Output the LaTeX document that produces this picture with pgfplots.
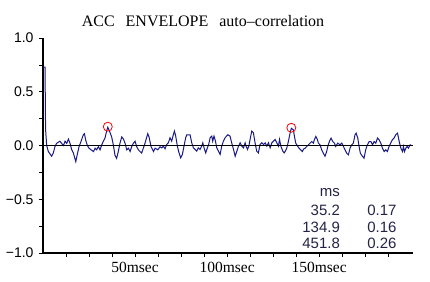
\documentclass[border=0pt]{standalone}
\usepackage{pgfplots}
\pgfplotsset{compat=1.18}
\usepackage{fontspec}
\setmainfont{Liberation Serif}
\newfontfamily\lsans{Liberation Sans}
\definecolor{sig}{RGB}{25,25,135}
\definecolor{tab}{RGB}{35,35,70}
\begin{document}
\begin{tikzpicture}
\path[use as bounding box] (-43bp,-29bp) rectangle (387bp,253bp);
\begin{axis}[
 at={(0,0)}, anchor=south west,
 scale only axis, width=370bp, height=215bp,
 xmin=0, xmax=201, ymin=-1, ymax=1,
 axis lines=left,
 axis line style={-, line width=1.8bp, black},
 tick align=outside,
 major tick length=4bp, minor tick length=4bp,
 tick style={black, line width=0.6bp},
 xtick={50,100,150},
 xticklabels={50msec,100msec,150msec},
 minor xtick={12.5,25,37.5,62.5,75,87.5,112.5,125,137.5,162.5,175,187.5},
 ytick={-1,-0.5,0,0.5,1},
 yticklabels={−1.0,−0.5,0.0,0.5,1.0},
 minor ytick={-0.75,-0.25,0.25,0.75},
 x tick label style={font=\fontsize{15.5bp}{16bp}\selectfont, yshift=-2bp},
 y tick label style={font=\lsans\fontsize{14bp}{15bp}\selectfont, xshift=-2bp},
]
\addplot[sig, line width=1bp] coordinates {
(0,0.73) (1.1,0.73) (1.4,0.15) (2.0,0.0) (2.9,-0.056) (4.7,-0.10) (5.6,-0.07) (6.5,-0.01) (7.4,0.02) (9.2,0.04)
(10.1,0.02) (11.1,0.0) (12.0,0.04) (12.9,0.02) (13.8,0.06) (14.7,0.02) (15.6,-0.04) (16.5,-0.07) (17.8,-0.15) (18.8,-0.07)
(19.6,-0.01) (20.7,0.04) (21.9,0.10) (22.5,0.11) (23.2,0.05) (24.1,0.0) (25.0,-0.025) (26.1,-0.04) (27.4,-0.056) (28.3,-0.025)
(29.2,-0.04) (30.1,-0.01) (31.0,-0.04) (31.9,0.006) (32.8,0.04) (33.7,0.07) (34.5,0.13) (35.2,0.17) (36.2,0.13) (37.3,0.08)
(38.2,0.006) (39.1,-0.09) (40.0,-0.12) (40.9,-0.056) (41.8,0.02) (42.8,0.08) (43.7,0.06) (44.6,0.02) (45.5,-0.04) (46.4,-0.025)
(47.3,-0.056) (48.2,-0.01) (49.1,0.02) (50.0,0.04) (50.9,-0.01) (51.8,-0.04) (52.7,-0.056) (53.6,-0.07) (54.5,-0.025) (55.4,0.02)
(56.9,0.11) (57.6,0.08) (58.7,-0.01) (60.0,-0.056) (60.9,-0.025) (62.3,-0.04)
(63.6,-0.012) (64.5,-0.022) (65.4,-0.006) (66.3,-0.031) (67.2,0.009) (68.1,0.025) (69.0,0.072) (69.9,0.04) (70.8,0.10) (71.4,0.134)
(72.1,0.087) (73.0,-0.006) (73.9,-0.069) (74.8,-0.115) (75.7,-0.084) (76.6,-0.006) (77.5,0.072) (78.1,0.10) (79.9,0.10) (80.8,0.025)
(81.7,-0.022) (82.6,-0.037) (83.5,-0.053) (84.4,-0.022) (85.3,-0.037) (86.2,-0.006) (86.8,0.025) (87.5,-0.022) (88.4,-0.069) (89.3,-0.022)
(90.0,0.009) (90.8,0.072) (91.7,0.087) (92.2,0.04) (92.9,0.087) (93.7,0.04) (94.4,-0.022) (95.3,-0.053) (96.2,-0.084) (97.1,-0.006)
(98.0,0.04) (98.9,0.072) (100.4,0.10) (101.6,0.087) (102.5,0.025) (103.5,-0.037) (104.4,-0.10) (105.3,-0.053) (106.2,-0.006) (107.1,0.025)
(108.0,-0.006) (108.9,-0.022) (109.8,0.025) (110.3,-0.006) (111.1,-0.037) (111.8,-0.006) (112.5,0.056) (113.4,0.134) (114.3,0.118) (115.2,0.025)
(116.1,-0.053) (117.0,-0.069) (117.9,0.009) (118.9,0.025) (119.8,0.009) (120.7,0.025) (121.6,-0.006) (122.5,0.025) (123.4,-0.022) (124.3,0.025)
(125.2,0.04) (126.1,0.056) (127.0,0.025) (127.9,-0.006) (128.5,0.056) (129.2,-0.006) (130.3,-0.053) (131.0,-0.069)
(131.5,-0.056) (132.4,-0.025) (133.3,0.037) (134.2,0.115) (134.9,0.16) (136.0,0.146) (136.6,0.084) (137.3,0.022) (138.2,-0.003) (139.1,-0.025)
(140.0,-0.04) (140.9,-0.056) (141.5,-0.034) (142.4,-0.025) (143.3,-0.009) (144.2,0.006) (145.1,0.022) (146.0,0.037) (146.9,0.022) (147.4,0.053)
(148.2,0.084) (149.1,0.053) (149.6,0.022) (150.5,0.006) (151.4,-0.04) (152.3,-0.072) (153.2,-0.10) (154.1,-0.056) (154.7,-0.009) (155.6,0.037)
(156.5,0.069) (157.4,0.037) (158.3,0.022) (159.0,-0.009) (160.1,0.022) (161.4,0.006) (162.3,0.022) (163.2,-0.009) (164.1,-0.04) (165.0,-0.072)
(165.9,-0.087) (166.8,-0.025) (167.7,0.006) (168.6,0.022) (169.5,0.10) (170.1,0.115) (171.0,0.069) (171.7,-0.009) (172.4,-0.072) (173.5,-0.10)
(174.4,-0.118) (175.3,-0.04) (176.2,0.006) (177.2,0.037) (178.1,0.037) (179.0,0.006) (179.9,0.037) (180.8,0.022) (181.7,0.069) (182.6,0.053)
(183.5,0.022) (184.4,-0.025) (185.3,-0.056) (186.2,-0.04) (187.1,-0.056) (188.0,-0.009) (188.9,0.022) (189.8,0.053) (190.7,0.069) (191.6,0.10)
(192.6,0.115) (193.5,0.037) (194.4,-0.025) (195.3,-0.056) (195.8,-0.009) (196.4,-0.056) (197.1,-0.025) (197.8,-0.009) (198.5,-0.025) (199.4,0.006)
(200.0,0.006)
};
\addplot[black, line width=1bp] coordinates {(0,0) (201,0)};
\addplot[only marks, red, mark=o, mark size=4.5bp, mark options={line width=0.8bp}] coordinates {(35.2,0.175) (134.9,0.165)};
\node[anchor=east, text=tab, font=\lsans\fontsize{15bp}{15bp}\selectfont, inner sep=0pt] at (rel axis cs:0.803,0.279) {ms};
\node[anchor=east, text=tab, font=\lsans\fontsize{15bp}{15bp}\selectfont, inner sep=0pt] at (rel axis cs:0.803,0.200) {35.2};
\node[anchor=east, text=tab, font=\lsans\fontsize{15bp}{15bp}\selectfont, inner sep=0pt] at (rel axis cs:0.803,0.121) {134.9};
\node[anchor=east, text=tab, font=\lsans\fontsize{15bp}{15bp}\selectfont, inner sep=0pt] at (rel axis cs:0.803,0.0465) {451.8};
\node[anchor=west, text=tab, font=\lsans\fontsize{15bp}{15bp}\selectfont, inner sep=0pt] at (rel axis cs:0.876,0.200) {0.17};
\node[anchor=west, text=tab, font=\lsans\fontsize{15bp}{15bp}\selectfont, inner sep=0pt] at (rel axis cs:0.876,0.121) {0.16};
\node[anchor=west, text=tab, font=\lsans\fontsize{15bp}{15bp}\selectfont, inner sep=0pt] at (rel axis cs:0.876,0.0465) {0.26};
\end{axis}
\node[anchor=base, font=\fontsize{16bp}{18bp}\selectfont] at (160bp,226bp) {ACC\hspace{11bp}ENVELOPE\hspace{11bp}auto\textendash correlation};
\end{tikzpicture}
\end{document}
